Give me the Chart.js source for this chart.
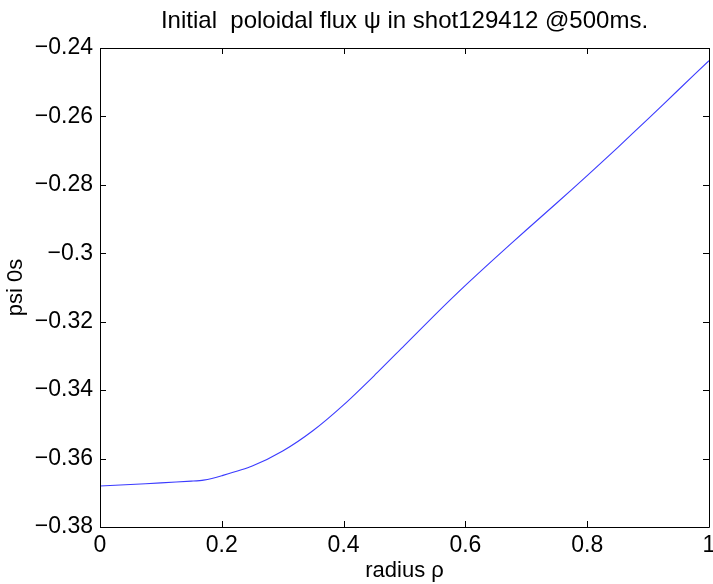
<!DOCTYPE html>
<html lang="en">
<head>
    <meta charset="UTF-8">
    <title>Initial poloidal flux</title>
    <script src="https://cdn.jsdelivr.net/npm/chart.js@4.4.0/dist/chart.umd.min.js"></script>
    <style>
        html, body { margin: 0; padding: 0; background: #fff; }
        #wrap { width: 713px; height: 584px; }
    </style>
</head>
<body>
    <div id="wrap"><canvas id="psiChart" width="713" height="584"></canvas></div>

    <script>
        // radius rho and psi profile at t = 0s
        const radius = [0, 0.05, 0.1, 0.15, 0.17, 0.2, 0.25, 0.3, 0.35, 0.4, 0.45, 0.5,
                        0.55, 0.6, 0.65, 0.7, 0.75, 0.8, 0.85, 0.9, 0.95, 1.0];
        const psi = [-0.3680, -0.3676, -0.3671, -0.3666, -0.3663, -0.3650, -0.3622, -0.3578,
                     -0.3518, -0.3443, -0.3358, -0.3269, -0.3180, -0.3094, -0.3012, -0.2932,
                     -0.2853, -0.2773, -0.2691, -0.2607, -0.2522, -0.2437];
        const xTicks = [0, 0.2, 0.4, 0.6, 0.8, 1];
        const yTicks = [-0.38, -0.36, -0.34, -0.32, -0.3, -0.28, -0.26, -0.24];
        const titleText = 'Initial  poloidal flux \u03c8 in shot129412 @500ms.';

        const FONT = 'Liberation Sans, Arial, sans-serif';

        function fmt(v) {
            const s = String(Math.round(v * 100) / 100);
            return s.replace('-', '\u2212');
        }

        // box around the axes with ticks pointing inwards on all four sides,
        // plus the title centred over the plot box
        const boxPlugin = {
            id: 'boxTicks',
            afterDraw(chart) {
                const { ctx, chartArea: a, scales } = chart;
                const len = 6;
                ctx.save();
                ctx.strokeStyle = '#000';
                ctx.lineWidth = 1;
                ctx.beginPath();
                ctx.rect(Math.round(a.left) + 0.5, Math.round(a.top) + 0.5,
                         Math.round(a.right - a.left), Math.round(a.bottom - a.top));
                xTicks.forEach(v => {
                    const px = Math.round(scales.x.getPixelForValue(v)) + 0.5;
                    ctx.moveTo(px, a.bottom); ctx.lineTo(px, a.bottom - len);
                    ctx.moveTo(px, a.top); ctx.lineTo(px, a.top + len);
                });
                yTicks.forEach(v => {
                    const py = Math.round(scales.y.getPixelForValue(v)) + 0.5;
                    ctx.moveTo(a.left, py); ctx.lineTo(a.left + len, py);
                    ctx.moveTo(a.right, py); ctx.lineTo(a.right - len, py);
                });
                ctx.stroke();

                ctx.fillStyle = '#000';
                ctx.font = '24px ' + FONT;
                ctx.textAlign = 'center';
                ctx.textBaseline = 'alphabetic';
                ctx.fillText(titleText, (a.left + a.right) / 2, 28);
                ctx.restore();
            }
        };

        new Chart(document.getElementById('psiChart'), {
            type: 'line',
            data: {
                datasets: [{
                    data: radius.map((r, i) => ({ x: r, y: psi[i] })),
                    borderColor: '#3b3bff',
                    borderWidth: 1.1,
                    pointRadius: 0,
                    tension: 0.25,
                    fill: false
                }]
            },
            options: {
                responsive: false,
                animation: false,
                layout: { padding: { left: 0, right: 4, top: 48, bottom: 0 } },
                plugins: {
                    legend: { display: false },
                    tooltip: { enabled: false },
                    title: { display: false }
                },
                scales: {
                    x: {
                        type: 'linear',
                        min: 0, max: 1,
                        afterBuildTicks: s => { s.ticks = xTicks.map(v => ({ value: v })); },
                        afterFit: s => { s.height = 57; s.paddingRight = 0; s.paddingLeft = 0; },
                        grid: { display: false, tickLength: 0 },
                        border: { display: false },
                        ticks: {
                            color: '#000',
                            padding: 5,
                            font: { family: FONT, size: 23 },
                            maxRotation: 0,
                            callback: v => fmt(v)
                        },
                        title: {
                            display: true,
                            text: 'radius \u03c1',
                            color: '#000',
                            font: { family: FONT, size: 22 },
                            padding: { top: 0, bottom: 0 }
                        }
                    },
                    y: {
                        type: 'linear',
                        min: -0.38, max: -0.24,
                        afterBuildTicks: s => { s.ticks = yTicks.map(v => ({ value: v })); },
                        afterFit: s => { s.width = 100; s.paddingTop = 0; s.paddingBottom = 0; },
                        grid: { display: false, tickLength: 0 },
                        border: { display: false },
                        ticks: {
                            color: '#000',
                            padding: 7,
                            font: { family: FONT, size: 23 },
                            callback: v => fmt(v)
                        },
                        title: {
                            display: true,
                            text: 'psi 0s',
                            color: '#000',
                            font: { family: FONT, size: 22 },
                            padding: { top: 3, bottom: 0 }
                        }
                    }
                }
            },
            plugins: [boxPlugin]
        });
    </script>
</body>
</html>
